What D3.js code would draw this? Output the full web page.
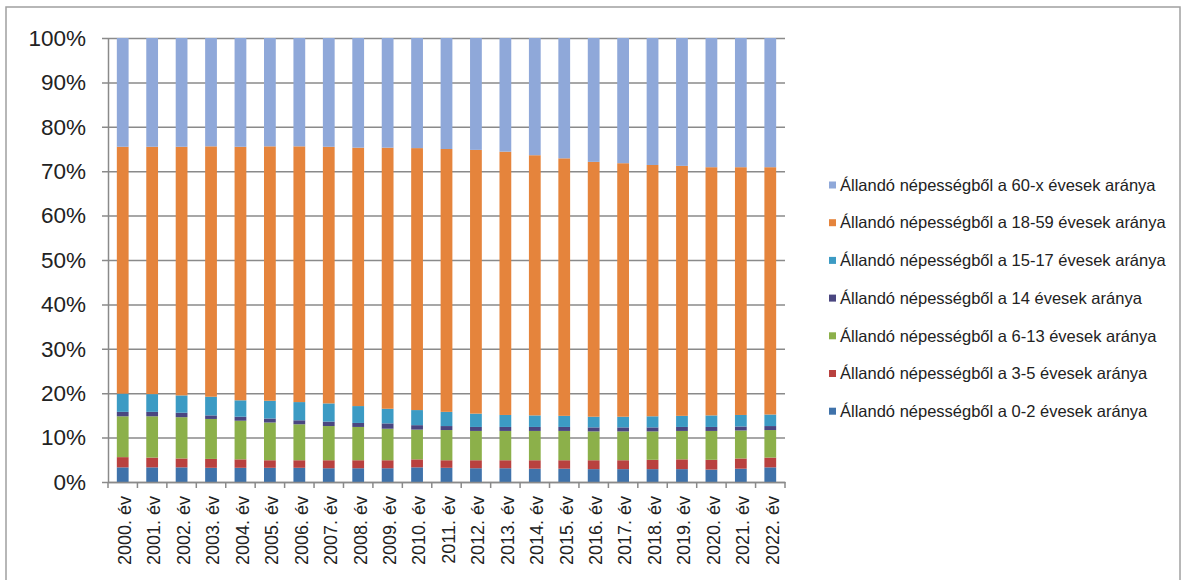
<!DOCTYPE html>
<html>
<head>
<meta charset="utf-8">
<script src="https://cdn.jsdelivr.net/npm/d3@7/dist/d3.min.js"></script>
<style>
  html, body { margin: 0; padding: 0; background: #fff; }
  svg { display: block; }
  text { font-family: "Liberation Sans", Arial, sans-serif; fill: #222; }
</style>
</head>
<body>
<svg id="chart" width="1188" height="580"></svg>
<script>
// ---- Data (percent shares per year) ----
const years = ["2000. év","2001. év","2002. év","2003. év","2004. év","2005. év","2006. év","2007. év",
  "2008. év","2009. év","2010. év","2011. év","2012. év","2013. év","2014. év","2015. év","2016. év",
  "2017. év","2018. év","2019. év","2020. év","2021. év","2022. év"];

const age0_2   = [3.3,3.3,3.3,3.2,3.2,3.2,3.2,3.1,3.1,3.1,3.3,3.2,3.1,3.1,3.0,3.0,2.9,2.9,2.9,2.9,2.8,3.0,3.3];
const age3_5   = [2.3,2.2,2.0,2.0,1.9,1.7,1.7,1.8,1.8,1.8,1.8,1.7,1.8,1.8,1.9,1.9,2.0,2.0,2.1,2.2,2.2,2.3,2.2];
const age6_13  = [9.2,9.3,9.3,9.0,8.7,8.5,8.1,7.7,7.5,7.1,6.7,6.8,6.6,6.6,6.6,6.6,6.5,6.5,6.4,6.4,6.5,6.3,6.2];
const age14    = [1.0,1.0,1.0,0.8,0.9,0.9,0.9,1.0,0.9,1.2,1.0,0.9,0.9,0.9,0.9,0.9,0.9,0.9,0.9,0.9,0.9,0.9,0.9];
const age15_17 = [4.1,4.0,3.9,4.2,3.7,4.0,4.1,4.1,3.8,3.3,3.4,3.2,3.0,2.7,2.6,2.5,2.4,2.4,2.5,2.5,2.6,2.6,2.6];
const age18_59 = [55.6,55.7,56.0,56.4,57.1,57.3,57.6,57.8,58.2,58.8,59.0,59.2,59.4,59.3,58.6,58.0,57.4,57.1,56.6,56.3,55.9,55.8,55.7];
const age60    = [24.5,24.5,24.5,24.4,24.5,24.4,24.4,24.5,24.7,24.7,24.8,25.0,25.2,25.6,26.4,27.1,27.9,28.2,28.6,28.8,29.1,29.1,29.1];

const seriesNames = [
  "Állandó népességből a 0-2 évesek aránya",
  "Állandó népességből a 3-5 évesek aránya",
  "Állandó népességből a 6-13 évesek aránya",
  "Állandó népességből a 14 évesek aránya",
  "Állandó népességből a 15-17 évesek aránya",
  "Állandó népességből a 18-59 évesek aránya",
  "Állandó népességből a 60-x évesek aránya"
];
const seriesValues = [age0_2, age3_5, age6_13, age14, age15_17, age18_59, age60];
const seriesColors = ["#3F72AA", "#B9413F", "#8CB04A", "#4A4680", "#3C9BC4", "#E5843C", "#8FA8D9"];
const yTicks = [0,10,20,30,40,50,60,70,80,90,100];

// ---- Layout ----
const svg = d3.select("#chart");
const plot = { left: 108, right: 785, top: 38, bottom: 482 };
const gridColor = "#8a8a8a";

// chart frame
svg.append("rect").attr("x", 6).attr("y", 7).attr("width", 1174).attr("height", 600)
  .attr("fill", "#fff").attr("stroke", "#a0a0a0").attr("stroke-width", 1.5);

// build table for stacking
const keys = seriesNames.map((_, i) => "s" + i);
const table = years.map((yr, j) => {
  const row = { year: yr };
  let total = 0;
  seriesValues.forEach((arr) => total += arr[j]);
  seriesValues.forEach((arr, i) => row["s" + i] = arr[j] / total * 100);
  return row;
});
const stacked = d3.stack().keys(keys)(table);

const x = d3.scaleBand().domain(years).range([plot.left, plot.right]).paddingInner(0.6).paddingOuter(0.3);
const y = d3.scaleLinear().domain([0, 100]).range([plot.bottom, plot.top]);

// gridlines + y axis
const yAxis = d3.axisLeft(y).tickValues(yTicks).tickFormat(d => d + "%")
  .tickSizeInner(-(plot.right - plot.left)).tickSizeOuter(0).tickPadding(22);
const gy = svg.append("g").attr("transform", `translate(${plot.left},0)`).call(yAxis);
gy.select(".domain").attr("stroke", gridColor).attr("stroke-width", 1.5);
gy.selectAll(".tick line").attr("stroke", gridColor).attr("stroke-width", 1.5).attr("x1", -6);
gy.selectAll(".tick text").attr("font-size", 22.5).attr("fill", "#1a1a1a")
  .style("font-family", '"Liberation Sans", Arial, sans-serif');

// bars
svg.append("g").selectAll("g").data(stacked).join("g")
  .attr("fill", (d, i) => seriesColors[i])
  .selectAll("rect").data(d => d).join("rect")
  .attr("x", d => x(d.data.year))
  .attr("width", x.bandwidth())
  .attr("y", d => y(d[1]))
  .attr("height", d => y(d[0]) - y(d[1]));

// x axis
const xAxis = d3.axisBottom(x).tickSize(0).tickPadding(0);
const gx = svg.append("g").attr("transform", `translate(0,${plot.bottom})`).call(xAxis);
gx.select(".domain").attr("stroke", gridColor).attr("stroke-width", 1.5);
gx.selectAll(".tick text")
  .attr("font-size", 18)
  .attr("fill", "#1a1a1a")
  .style("font-family", '"Liberation Sans", Arial, sans-serif')
  .attr("text-anchor", "end")
  .attr("transform", "rotate(-90)")
  .attr("x", -14)
  .attr("y", 2)
  .attr("dy", "0.35em");
// ticks between categories
const step = x.step();
const boundaries = years.map((yv, i) => plot.left + i * step).concat([plot.right]);
svg.append("g").selectAll("line").data(boundaries).join("line")
  .attr("x1", d => d).attr("x2", d => d)
  .attr("y1", plot.bottom).attr("y2", plot.bottom + 6)
  .attr("stroke", gridColor).attr("stroke-width", 1.5);

// legend
const legendOrder = [6,5,4,3,2,1,0];
const lg = svg.append("g");
legendOrder.forEach((si, k) => {
  const cy = 185 + k * 37.7;
  lg.append("rect").attr("x", 829).attr("y", cy - 3.5).attr("width", 7).attr("height", 7)
    .attr("fill", seriesColors[si]);
  lg.append("text").attr("x", 840).attr("y", cy).attr("dy", "0.35em")
    .attr("font-size", 16.5).attr("fill", "#2a2a2a").text(seriesNames[si]);
});
</script>
</body>
</html>
